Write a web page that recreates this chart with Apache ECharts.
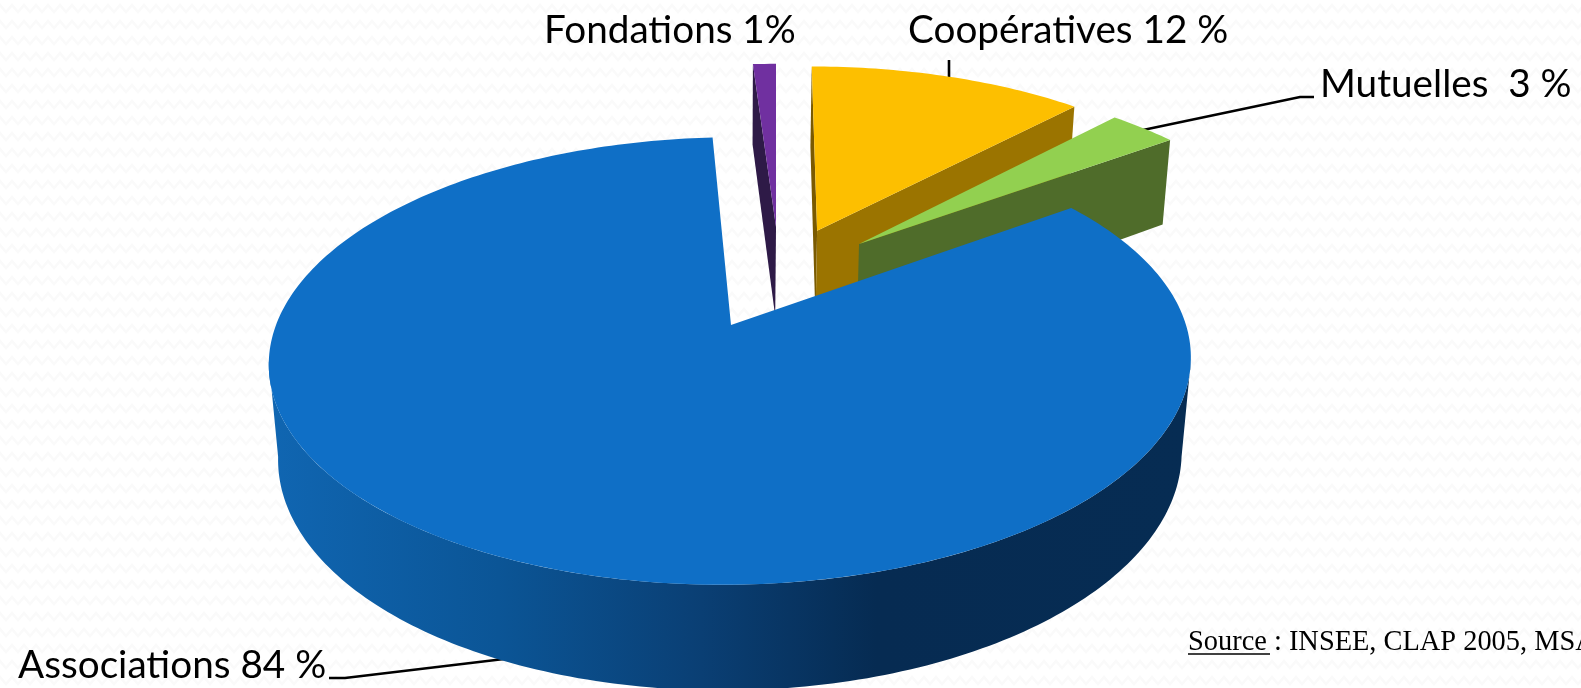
<!DOCTYPE html>
<html>
<head>
    <meta charset="utf-8">
    <title>Economie sociale</title>
    <style>
        html, body { margin: 0; padding: 0; background: #fff; overflow: hidden; }
        #main { width: 1581px; height: 688px; }
    </style>
</head>
<body>
<div id="main"></div>
<script src="https://cdn.jsdelivr.net/npm/echarts@6/dist/echarts.min.js"></script>
<script>
// chart values, clockwise from the top of the pie
var categories = ['Coopératives', 'Mutuelles', 'Associations', 'Fondations'];
var shares = [12, 3, 84, 1];
var labelTexts = ['Coopératives 12 %', 'Mutuelles  3 %', 'Associations 84 %', 'Fondations 1%'];
var sourceLead = 'Source';
var sourceRest = ' : INSEE, CLAP 2005, MSA';

// per slice look, same order as categories
var topColors = ['#FDBF00', '#92D050', '#0F6FC6', '#7030A0'];
var startFaceColors = ['#7A5A00', null, null, '#2E1A47'];
var endFaceColors = ['#9B7400', '#4F6C2A', null, null];
var explodeOffsets = [[0.196, 0.465], [0.293, 0.395], [0, 0], [0.099, 0.484]];
var drawOrder = [2, 3, 4, 1];

// perspective of the disc (fitted on the picture)
var cx = 731, cy = 325, radiusX = 455, radiusY = 218;
var skew = 7.2, persp = 0.1608, baseShrink = 0.02, depth = 96;

function project(X, Y, onBase) {
    var w = 1 + persp * Y + (onBase ? baseShrink : 0);
    return [
        cx + (radiusX * X + skew * Y) / w,
        cy + (-radiusY * Y + (onBase ? depth : 0)) / w
    ];
}

function rimPoint(deg, off, onBase) {
    var a = deg * Math.PI / 180;
    return project(Math.sin(a) + off[0], Math.cos(a) + off[1], onBase);
}

function arcPoints(from, to, off, onBase) {
    var pts = [], n = Math.max(2, Math.ceil((to - from) / 1));
    for (var i = 0; i <= n; i++) {
        pts.push(rimPoint(from + (to - from) * i / n, off, onBase));
    }
    return pts;
}

function renderSlice(params, api) {
    var idx = api.value(0);
    var total = shares.reduce(function (a, b) { return a + b; }, 0);
    var before = 0;
    for (var i = 0; i < idx; i++) before += shares[i];
    var from = before / total * 360;
    var to = from + api.value(1) / total * 360;
    var off = explodeOffsets[idx];
    var z = drawOrder[idx] * 10;
    var apexTop = project(off[0], off[1], false);
    var apexBase = project(off[0], off[1], true);
    var children = [];

    function face(deg, color) {
        children.push({
            type: 'polygon',
            z2: z,
            shape: { points: [apexTop, rimPoint(deg, off, false), rimPoint(deg, off, true), apexBase] },
            style: { fill: color }
        });
    }
    if (startFaceColors[idx]) face(from, startFaceColors[idx]);
    if (endFaceColors[idx]) face(to, endFaceColors[idx]);

    // outer wall, between the two angles where the rim turns away from the viewer
    var tangent = Math.acos(-persp) * 180 / Math.PI;
    var wallFrom = Math.max(from, tangent), wallTo = Math.min(to, 360 - tangent);
    if (wallTo > wallFrom) {
        children.push({
            type: 'polygon',
            z2: z,
            shape: {
                points: arcPoints(wallFrom, wallTo, off, false)
                    .concat(arcPoints(wallFrom, wallTo, off, true).reverse())
            },
            style: {
                fill: {
                    type: 'linear', x: 268, y: 0, x2: 1190, y2: 0, global: true,
                    colorStops: [
                        { offset: 0, color: '#1066B2' },
                        { offset: 0.25, color: '#0B5596' },
                        { offset: 0.47, color: '#0A3F74' },
                        { offset: 0.66, color: '#062B52' },
                        { offset: 1, color: '#062C53' }
                    ]
                }
            }
        });
    }

    children.push({
        type: 'polygon',
        z2: z + 1,
        shape: { points: [apexTop].concat(arcPoints(from, to, off, false)) },
        style: { fill: topColors[idx] }
    });
    return { type: 'group', children: children };
}

function zigzagTile() {
    var c = document.createElement('canvas');
    c.width = 12;
    c.height = 16;
    var g = c.getContext('2d');
    g.fillStyle = '#ffffff';
    g.fillRect(0, 0, 12, 16);
    g.strokeStyle = '#FAFAFA';
    g.lineWidth = 2.5;
    g.beginPath();
    g.moveTo(-6, 12); g.lineTo(0, 5); g.lineTo(6, 12); g.lineTo(12, 5); g.lineTo(18, 12);
    g.stroke();
    return c;
}

function labelText(text, x, y) {
    return {
        type: 'text', x: x, y: y, z: 10,
        style: {
            text: text, fill: '#000', fontFamily: 'Lato', fontSize: 38.7,
            textAlign: 'left', verticalAlign: 'middle'
        }
    };
}

function leader(points) {
    return {
        type: 'polyline', z: 1,
        shape: { points: points },
        style: { stroke: '#000', lineWidth: 2.6, fill: null }
    };
}

var myChart = echarts.init(document.getElementById('main'));

myChart.setOption({
    animation: false,
    backgroundColor: { image: zigzagTile(), repeat: 'repeat' },
    graphic: [
        leader([[949, 60], [949, 78]]),
        leader([[1143, 130], [1300, 97], [1314, 97]]),
        leader([[329, 678], [345, 678], [504, 659]]),
        labelText(labelTexts[3], 544, 31),
        labelText(labelTexts[0], 908, 31),
        labelText(labelTexts[1], 1320, 85),
        labelText(labelTexts[2], 18, 666),
        {
            type: 'text', x: 1188, y: 643, z: 10,
            style: {
                text: sourceLead + sourceRest, fill: '#000', fontFamily: 'Liberation Serif', fontSize: 28.4,
                textAlign: 'left', verticalAlign: 'middle'
            }
        },
        {
            type: 'line', z: 10,
            shape: { x1: 1188, y1: 654, x2: 1270, y2: 654 },
            style: { stroke: '#000', lineWidth: 1.5 }
        }
    ],
    series: [{
        type: 'custom',
        name: 'Répartition',
        coordinateSystem: 'none',
        silent: true,
        renderItem: renderSlice,
        data: categories.map(function (c, i) { return { name: c, value: [i, shares[i]] }; })
    }]
});
</script>
</body>
</html>
